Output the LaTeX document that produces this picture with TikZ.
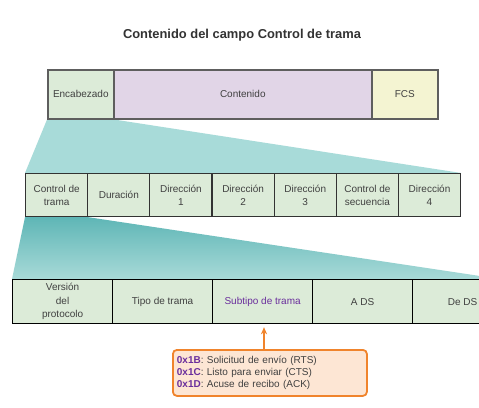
\documentclass[tikz,border=0pt]{standalone}
\usepackage{fontspec}
\setmainfont{Liberation Sans}
\usetikzlibrary{arrows.meta,backgrounds}
\definecolor{grn}{HTML}{DCEBD8}
\definecolor{lav}{HTML}{E1D5E7}
\definecolor{ylw}{HTML}{F4F4D2}
\definecolor{tealA}{HTML}{A8DBD9}
\definecolor{tealB}{HTML}{5FB6B6}
\definecolor{tealC}{HTML}{A8DAD8}
\definecolor{org}{HTML}{F0842C}
\definecolor{orgf}{HTML}{FDE6D4}
\definecolor{purp}{HTML}{6A2E9C}
\definecolor{txt}{HTML}{404040}
\definecolor{bdA}{HTML}{5E5E5E}
\definecolor{bdB}{HTML}{333333}
\begin{document}
\begin{tikzpicture}[x=1pt,y=-1pt,
  cell/.style={draw=bdB, line width=1.2pt, inner sep=0pt, anchor=north west,
    align=center, text=txt, font=\fontsize{10}{13}\selectfont},
  topcell/.style={cell, draw=bdA, line width=1.6pt, minimum height=49pt},
  midcell/.style={cell, minimum height=43pt, minimum width=62.14pt, fill=grn},
  lowcell/.style={cell, draw=black, minimum height=44pt, minimum width=100pt, fill=grn,
    font=\fontsize{10}{13.5}\selectfont}]
\useasboundingbox (0,0) rectangle (479,407);
\clip (0,0) rectangle (479,407);

\node[font=\bfseries\fontsize{12.9}{15}\selectfont, text=bdB] (title) at (242,35) {Contenido del campo Control de trama};

% row 1
\node[topcell, fill=grn, minimum width=66pt] (enc) at (47,69) {Encabezado};
\node[topcell, fill=lav, minimum width=258pt] (cont) at (113,69) {Contenido};
\node[topcell, fill=ylw, minimum width=66pt] (fcs) at (371,69) {FCS};

% row 2
\node[midcell] (r2a) at (25,173) {Control de\\trama};
\node[midcell] (r2b) at (87.14,173) {Duración};
\node[midcell] (r2c) at (149.28,173) {Dirección\\1};
\node[midcell] (r2d) at (211.42,173) {Dirección\\2};
\node[midcell] (r2e) at (273.56,173) {Dirección\\3};
\node[midcell] (r2f) at (335.7,173) {Control de\\secuencia};
\node[midcell] (r2g) at (397.84,173) {Dirección\\4};

% row 3
\node[lowcell] (r3a) at (12,279) {Versión\\del\\protocolo};
\node[lowcell] (r3b) at (112,279) {Tipo de trama};
\node[lowcell, text=purp] (r3c) at (212,279) {Subtipo de trama};
\node[lowcell] (r3d) at (312,279) {A DS};
\node[lowcell] (r3e) at (412,279) {De DS};
\coordinate (farR) at (500,279);

% callout
\node[draw=org, line width=1.8pt, fill=orgf, rounded corners=4pt, anchor=north west,
  minimum width=194pt, minimum height=46pt, inner sep=4pt, align=left, text=txt,
  font=\fontsize{10}{12}\selectfont, text width=186pt] (call) at (172,349)
  {\textcolor{purp}{\textbf{0x1B}}: Solicitud de envío (RTS)\\
   \textcolor{purp}{\textbf{0x1C}}: Listo para enviar (CTS)\\
   \textcolor{purp}{\textbf{0x1D}}: Acuse de recibo (ACK)};
\coordinate (ctop) at (264,349);
\draw[org, line width=1.8pt, -{Stealth[length=7pt,width=6pt,inset=2pt]}, shorten >=3pt]
  (ctop) -- (ctop |- r3c.south);

\begin{pgfonlayer}{background}
\fill[white] (0,0) rectangle (479,407);
\fill[tealA] (enc.south west) -- (enc.south east) -- (r2g.north east) -- (r2a.north west) -- cycle;
\shade[top color=tealB, bottom color=tealC] (r2a.south west) -- (r2a.south east) -- (farR) -- (r3a.north west) -- cycle;
\end{pgfonlayer}
\end{tikzpicture}
\end{document}
